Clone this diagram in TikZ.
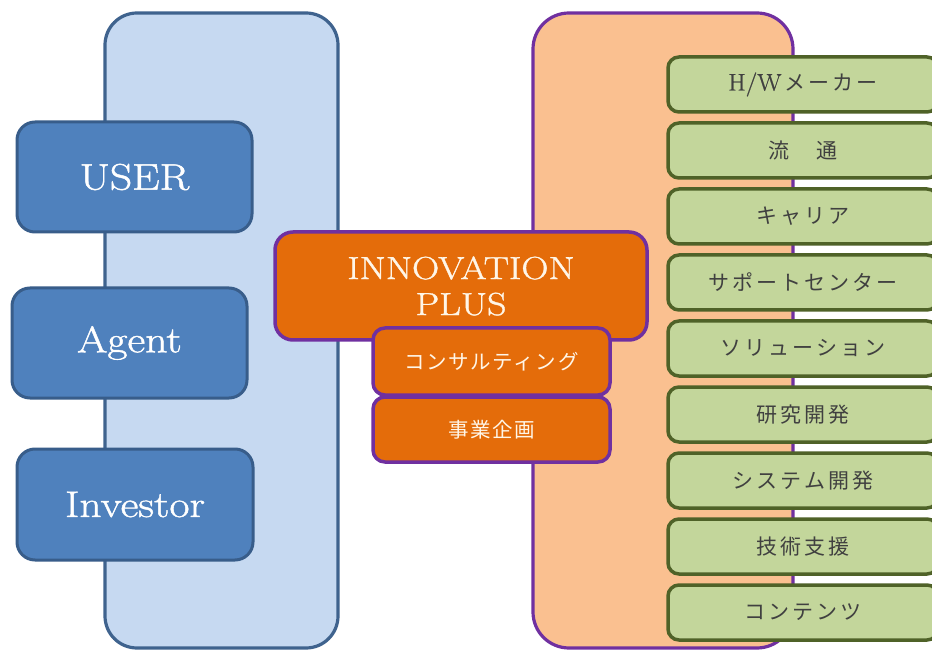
\documentclass[tikz,border=0pt]{standalone}
\usepackage{fontspec}
\newfontfamily\cent{Latin Modern Roman}[FakeStretch=1.18, FakeBold=1.2]
\newfontfamily\centg{Latin Modern Roman}[FakeStretch=1.05, FakeBold=0.8]
\newfontfamily\jp{Noto Sans CJK JP}[LetterSpace=8]
\newfontfamily\jpsp{Noto Sans CJK JP}[LetterSpace=14]
\definecolor{lbgfill}{HTML}{C6D9F1}
\definecolor{lbgdraw}{HTML}{3F638E}
\definecolor{bluefill}{HTML}{4F81BD}
\definecolor{bluedraw}{HTML}{385D8A}
\definecolor{rbgfill}{HTML}{FAC090}
\definecolor{purp}{HTML}{7030A0}
\definecolor{orng}{HTML}{E46C0A}
\definecolor{grnfill}{HTML}{C3D69B}
\definecolor{grndraw}{HTML}{4F6228}
\definecolor{grntext}{HTML}{404040}
\definecolor{cream}{HTML}{FFF6E8}
\tikzset{
  bigbox/.style={rectangle, inner sep=0pt, line width=3.2pt},
  bluebox/.style={rectangle, rounded corners=18pt, inner sep=0pt, line width=3pt,
    fill=bluefill, draw=bluedraw, minimum width=235pt, minimum height=110pt,
    text=white, font=\cent\fontsize{37}{40}\selectfont},
  orbox/.style={rectangle, inner sep=0pt, line width=3.5pt, fill=orng, draw=purp},
  grbox/.style={rectangle, rounded corners=11pt, inner sep=0pt, line width=3.5pt,
    fill=grnfill, draw=grndraw, minimum width=270pt, minimum height=55pt,
    text=grntext, font=\jpsp\fontsize{21}{24}\selectfont},
}
\begin{document}
\begin{tikzpicture}[x=1pt,y=-1pt]
\useasboundingbox[fill=white] (0,0) rectangle (932,652);
% background columns
\node[bigbox, rounded corners=32pt, fill=lbgfill, draw=lbgdraw,
  minimum width=233pt, minimum height=635pt] (leftbg) at (221.5,330.5) {};
\node[bigbox, rounded corners=36pt, fill=rbgfill, draw=purp,
  minimum width=260pt, minimum height=635pt] (rightbg) at (663,330.5) {};
% left boxes
\node[bluebox] (user) at (134.5,177) {USER};
\node[bluebox] (agent) at (129.5,343) {Agent};
\node[bluebox, minimum width=236pt, minimum height=111pt] (investor) at (135,504.5) {Investor};
% centre boxes
\node[orbox, rounded corners=18pt, minimum width=372pt, minimum height=108pt,
  text=cream, align=center, font=\cent\fontsize{32}{36}\selectfont] (innov) at (461,286)
  {INNOVATION\\PLUS};
\node[orbox, rounded corners=12pt, minimum width=237pt, minimum height=67pt,
  text=cream, font=\jp\fontsize{20.5}{24}\selectfont] (consult) at (491.5,361.5) {コンサルティング};
\node[orbox, rounded corners=12pt, minimum width=237pt, minimum height=65pt,
  text=cream, font=\jp\fontsize{20.5}{24}\selectfont] (jigyo) at (491.5,429.5) {事業企画};
% right boxes
\node[grbox] (g1) at (803,84.5) {{\centg\fontsize{24}{24}\selectfont H/W}\,メーカー};
\node[grbox] (g2) at (803,150.5) {流　通};
\node[grbox] (g3) at (803,216.5) {キャリア};
\node[grbox] (g4) at (803,282.5) {サポートセンター};
\node[grbox] (g5) at (803,348.5) {ソリューション};
\node[grbox] (g6) at (803,414.5) {研究開発};
\node[grbox] (g7) at (803,480.5) {システム開発};
\node[grbox] (g8) at (803,546.5) {技術支援};
\node[grbox] (g9) at (803,612.5) {コンテンツ};
\end{tikzpicture}
\end{document}
